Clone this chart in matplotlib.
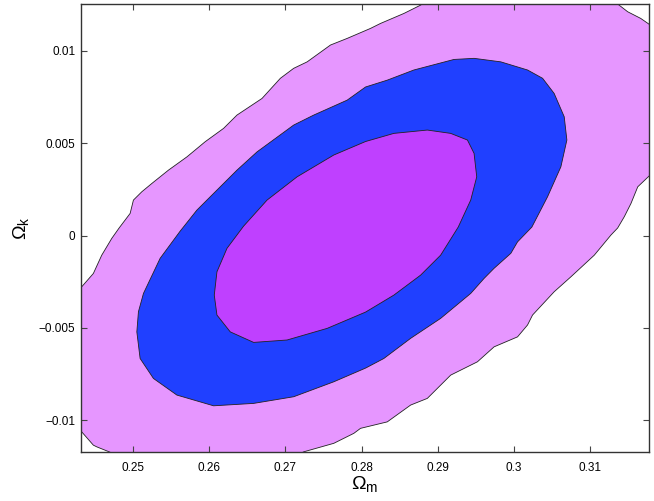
import matplotlib
matplotlib.use('Agg')
import matplotlib.pyplot as plt

plt.rcParams['font.family'] = ['Liberation Sans', 'DejaVu Sans']

# 95% region (outer), clipped by the axes; points beyond the frame close the shape
outer_m = [0.2420, 0.24325, 0.24478, 0.24588, 0.24720, 0.24816, 0.24961, 0.25004,
           0.25114, 0.25246, 0.25464, 0.25707, 0.25947, 0.26188, 0.26364, 0.26693,
           0.26934, 0.27109, 0.27286, 0.27592, 0.27812, 0.28118, 0.28250, 0.28557,
           0.28776, 0.2905,
           0.3130, 0.31364, 0.31496, 0.31667, 0.31793, 0.3195, 0.3195,
           0.31789, 0.31628, 0.31539, 0.31451, 0.31364, 0.31276, 0.31057, 0.30750,
           0.30530, 0.30246, 0.30180, 0.30049, 0.29741, 0.29522, 0.29171, 0.28864,
           0.28645, 0.28338, 0.27987, 0.27899, 0.27636, 0.27241, 0.2705,
           0.24697, 0.24697, 0.24522, 0.24478, 0.24325, 0.24237]
outer_k = [-0.0034, -0.00277, -0.00205, -0.00106, -0.00015, 0.00041, 0.00120, 0.00192,
           0.00237, 0.00282, 0.00354, 0.00426, 0.00508, 0.00580, 0.00652, 0.00742,
           0.00851, 0.00905, 0.00940, 0.01031, 0.01067, 0.01121, 0.01148, 0.01202,
           0.01247, 0.0132,
           0.0132, 0.01253, 0.01211, 0.01175, 0.01139, 0.0110, 0.0035,
           0.00327, 0.00264, 0.00174, 0.00102, 0.00041, 0.00003, -0.00106, -0.00223,
           -0.00304, -0.00430, -0.00484, -0.00548, -0.00602, -0.00683, -0.00755, -0.00881,
           -0.00917, -0.01008, -0.01043, -0.01070, -0.01124, -0.01170, -0.0121,
           -0.0121, -0.01172, -0.01143, -0.01134, -0.01062, -0.01025]

# 68% region (middle)
mid_m = [0.25049, 0.25092, 0.25267, 0.25575, 0.26057, 0.26583, 0.27109, 0.27636,
         0.28053, 0.28293, 0.28645, 0.29039, 0.29434, 0.29609, 0.29741, 0.29961,
         0.30049, 0.30237, 0.30443, 0.30618, 0.30697, 0.30662, 0.30530, 0.30378,
         0.30180, 0.29829, 0.29478, 0.29214, 0.28688, 0.28338, 0.28053, 0.27812,
         0.27372, 0.27109, 0.26628, 0.26364, 0.26057, 0.25838, 0.25618, 0.25355,
         0.25136, 0.25070]
mid_k = [-0.00521, -0.00665, -0.00773, -0.00863, -0.00921, -0.00908, -0.00872, -0.00791,
         -0.00717, -0.00665, -0.00556, -0.00448, -0.00313, -0.00232, -0.00177, -0.00096,
         -0.00034, 0.00046, 0.00210, 0.00372, 0.00517, 0.00643, 0.00769, 0.00851,
         0.00896, 0.00940, 0.00959, 0.00953, 0.00896, 0.00841, 0.00804, 0.00733,
         0.00652, 0.00598, 0.00453, 0.00354, 0.00228, 0.00138, 0.00024, -0.00123,
         -0.00313, -0.00412]

# inner region
inner_m = [0.26066, 0.26101, 0.26276, 0.26583, 0.27022, 0.27549, 0.28053, 0.28425,
           0.28776, 0.29039, 0.29270, 0.29434, 0.29513, 0.29478, 0.29391, 0.29171,
           0.28864, 0.28425, 0.28053, 0.27636, 0.27154, 0.26759, 0.26451, 0.26233,
           0.26101]
inner_k = [-0.00322, -0.00430, -0.00521, -0.00578, -0.00565, -0.00502, -0.00414, -0.00322,
           -0.00214, -0.00106, 0.00046, 0.00192, 0.00318, 0.00445, 0.00517, 0.00553,
           0.00571, 0.00553, 0.00509, 0.00436, 0.00318, 0.00192, 0.00051, -0.00069,
           -0.00196]

xticks = [0.25, 0.26, 0.27, 0.28, 0.29, 0.30, 0.31]
xlabels = ['0.25', '0.26', '0.27', '0.28', '0.29', '0.3', '0.31']
yticks = [-0.01, -0.005, 0, 0.005, 0.01]
ylabels = ['\u22120.01', '\u22120.005', '0', '0.005', '0.01']

fig = plt.figure(figsize=(6.54, 5.01), dpi=100)
ax = fig.add_axes([0.1239, 0.0978, 0.8685, 0.8942])

ax.fill(outer_m, outer_k, facecolor='#E696FF', edgecolor='#222222', linewidth=0.6)
ax.fill(mid_m, mid_k, facecolor='#2040FF', edgecolor='#222222', linewidth=0.6)
ax.fill(inner_m, inner_k, facecolor='#BF40FF', edgecolor='#222222', linewidth=0.6)

ax.set_xlim(0.24316, 0.31776)
ax.set_ylim(-0.01171, 0.01253)
ax.set_xticks(xticks)
ax.set_xticklabels(xlabels)
ax.set_yticks(yticks)
ax.set_yticklabels(ylabels)
ax.tick_params(direction='in', top=True, right=True, length=4, width=0.8,
               color='#444444', labelsize=8.5)
ax.tick_params(axis='x', pad=7)
ax.tick_params(axis='y', pad=4)
for s in ax.spines.values():
    s.set_color('#333333')
    s.set_linewidth(1.0)

ax.set_xlabel(r'$\mathregular{\Omega_m}$', fontsize=14, labelpad=0)
ax.set_ylabel(r'$\mathregular{\Omega_k}$', fontsize=14, labelpad=6)

fig.savefig('out.png', dpi=100)
